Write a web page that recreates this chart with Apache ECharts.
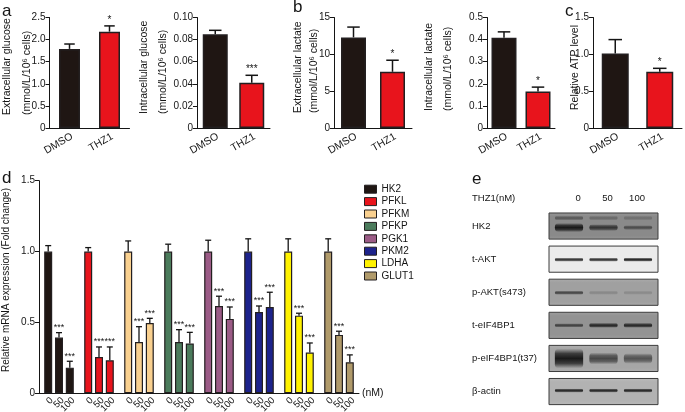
<!DOCTYPE html>
<html><head><meta charset="utf-8">
<script src="https://cdn.jsdelivr.net/npm/echarts@6/dist/echarts.min.js"></script>
<style>html,body{margin:0;padding:0;background:#fff}#c{width:685px;height:412px}</style>
</head><body><div id="c"></div>
<script>
// ---------------- data ----------------
const groups = ['DMSO', 'THZ1'];
const extGlucose = [1.79, 2.18];
const extGlucoseSem = [0.11, 0.13];
const extGlucoseSig = ['', '*'];
const intGlucose = [0.0848, 0.0410];
const intGlucoseSem = [0.0036, 0.0067];
const intGlucoseSig = ['', '***'];
const extLactate = [12.3, 7.63];
const extLactateSem = [1.4, 1.57];
const extLactateSig = ['', '*'];
const intLactate = [0.408, 0.165];
const intLactateSem = [0.027, 0.020];
const intLactateSig = ['', '*'];
const atpLevel = [1.01, 0.765];
const atpLevelSem = [0.19, 0.045];
const atpLevelSig = ['', '*'];

const genes = ['HK2', 'PFKL', 'PFKM', 'PFKP', 'PGK1', 'PKM2', 'LDHA', 'GLUT1'];
const doses = ['0', '50', '100'];
const mrna0   = [1, 1, 1, 1, 1, 1, 1, 1];
const mrna50  = [0.393, 0.256, 0.362, 0.362, 0.616, 0.574, 0.548, 0.412];
const mrna100 = [0.181, 0.233, 0.496, 0.351, 0.525, 0.609, 0.287, 0.219];
const sem0    = [0.042, 0.028, 0.075, 0.052, 0.080, 0.090, 0.090, 0.090];
const sem50   = [0.035, 0.071, 0.108, 0.087, 0.069, 0.042, 0.017, 0.026];
const sem100  = [0.045, 0.094, 0.033, 0.079, 0.084, 0.104, 0.068, 0.052];
const sig0    = ['', '', '', '', '', '', '', ''];
const sig50   = ['***', '***', '***', '***', '***', '***', '***', '***'];
const sig100  = ['***', '***', '***', '***', '***', '***', '***', '***'];

const blotLanes = ['0', '50', '100'];
const blotProteins = ['HK2', 't-AKT', 'p-AKT(s473)', 't-eIF4BP1', 'p-eIF4BP1(t37)', 'β-actin'];
const bandIntensity = [
  [0.95, 0.78, 0.62],
  [0.85, 0.85, 0.90],
  [0.72, 0.30, 0.28],
  [0.72, 0.86, 0.86],
  [1.00, 0.72, 0.66],
  [0.86, 0.86, 0.86]
];
const hk2UpperBand = [0.55, 0.42, 0.36];

// ---------------- styles ----------------
const FONT = '"Liberation Sans", Arial, sans-serif';
const INK = '#151515';
const groupColors = ['#1f1613', '#e8141c'];
const geneColors = ['#1f1613', '#e8141c', '#f9d08f', '#4b7b5c', '#9b5b86', '#1d238c', '#fff200', '#b09a6a'];
const blotRowStyle = [
  { bg: '#8a8a8a', base: 7, dy: 1.5 },
  { bg: '#ebebeb', base: 3, dy: 0.5 },
  { bg: '#a0a0a0', base: 4, dy: 0.5 },
  { bg: '#939393', base: 4.5, dy: 0 },
  { bg: '#a6a6a6', base: 14, dy: 0 },
  { bg: '#b2b2b2', base: 3.5, dy: -1 }
];

const grids = [], xAxes = [], yAxes = [], series = [];

function fmt(dec) { return v => (v === 0 ? '0' : v.toFixed(dec)); }

const smallPanels = [
  { values: extGlucose, sems: extGlucoseSem, sigs: extGlucoseSig, left: 49.5, width: 80, max: 2.5, interval: 0.5, dec: 1, bw: 21 },
  { values: intGlucose, sems: intGlucoseSem, sigs: intGlucoseSig, left: 197, width: 73, max: 0.1, interval: 0.02, dec: 2, bw: 25 },
  { values: extLactate, sems: extLactateSem, sigs: extLactateSig, left: 334, width: 78, max: 15, interval: 5, dec: 0, bw: 25 },
  { values: intLactate, sems: intLactateSem, sigs: intLactateSig, left: 487, width: 68, max: 0.5, interval: 0.1, dec: 1, bw: 25 },
  { values: atpLevel, sems: atpLevelSem, sigs: atpLevelSig, left: 593, width: 89, max: 1.5, interval: 0.5, dec: 1, bw: 27 }
];

const axisLineStyle = { show: true, lineStyle: { color: INK, width: 1 } };

smallPanels.forEach((p, i) => {
  grids.push({ left: p.left, top: 17.5, width: p.width, height: 110.5, outerBoundsMode: 'none', containLabel: false });
  xAxes.push({
    gridIndex: i, type: 'category', data: groups,
    axisLine: axisLineStyle, axisTick: { show: false },
    axisLabel: { rotate: 30, fontSize: 10.5, color: INK, margin: 3, interval: 0, align: 'right', verticalAlign: 'top', fontFamily: FONT }
  });
  yAxes.push({
    gridIndex: i, type: 'value', min: 0, max: p.max, interval: p.interval,
    axisLine: axisLineStyle, axisTick: { show: true, length: 4, lineStyle: { color: INK } },
    splitLine: { show: false },
    axisLabel: { fontSize: 10, color: INK, margin: 4, formatter: fmt(p.dec), fontFamily: FONT }
  });
  series.push({
    type: 'bar', xAxisIndex: i, yAxisIndex: i, barWidth: p.bw,
    data: p.values.map((v, j) => ({ value: v, itemStyle: { color: groupColors[j] } })),
    itemStyle: { borderColor: '#231f20', borderWidth: 1.5 }
  });
  series.push({
    type: 'custom', xAxisIndex: i, yAxisIndex: i, z: 5,
    data: p.values.map((v, j) => [j, v, p.sems[j]]),
    renderItem: (params, api) => {
      const idx = api.value(0), m = api.value(1), s = api.value(2);
      const base = api.coord([idx, m]);
      const top = api.coord([idx, m + s]);
      const cw = p.bw * 0.5;
      const children = [
        { type: 'line', shape: { x1: base[0], y1: base[1], x2: top[0], y2: top[1] }, style: { stroke: INK, lineWidth: 1.5 } },
        { type: 'line', shape: { x1: top[0] - cw / 2, y1: top[1], x2: top[0] + cw / 2, y2: top[1] }, style: { stroke: INK, lineWidth: 1.5 } }
      ];
      const sig = p.sigs[params.dataIndex];
      if (sig) children.push({ type: 'text', x: top[0], y: top[1] - 1, style: { text: sig, fontSize: 10, fill: INK, align: 'center', verticalAlign: 'bottom', fontFamily: FONT } });
      return { type: 'group', children };
    }
  });
});

// ---- panel d ----
const D = 5;
const BW = 8, GAP = 0.35;
grids.push({ left: 39, top: 180.7, width: 320, height: 212.6, outerBoundsMode: 'none', containLabel: false });
xAxes.push({
  gridIndex: D, type: 'category', data: genes,
  axisLine: axisLineStyle, axisTick: { show: false }, axisLabel: { show: false },
  name: '(nM)', nameLocation: 'end', nameGap: 3,
  nameTextStyle: { fontSize: 10.5, color: INK, fontFamily: FONT, verticalAlign: 'middle' }
});
yAxes.push({
  gridIndex: D, type: 'value', min: 0, max: 1.5, interval: 0.5,
  axisLine: axisLineStyle, axisTick: { show: true, length: 4, lineStyle: { color: INK } },
  splitLine: { show: false },
  axisLabel: { fontSize: 10, color: INK, margin: 4, formatter: fmt(1), fontFamily: FONT }
});
const doseValues = [mrna0, mrna50, mrna100];
const doseSems = [sem0, sem50, sem100];
const doseSigs = [sig0, sig50, sig100];
doses.forEach((d, k) => {
  series.push({
    type: 'bar', name: d, xAxisIndex: D, yAxisIndex: D, barWidth: BW, barGap: (GAP * 100) + '%',
    data: doseValues[k].map((v, i) => ({ value: v, itemStyle: { color: geneColors[i] } })),
    itemStyle: { borderColor: '#231f20', borderWidth: 1.2 },
    label: {
      show: true, position: 'bottom', distance: 2, formatter: d, rotate: 45,
      align: 'right', verticalAlign: 'top', fontSize: 9.5, color: INK, fontFamily: FONT
    }
  });
});
const errD = [];
doses.forEach((d, k) => genes.forEach((g, i) => errD.push([i, k, doseValues[k][i], doseSems[k][i]])));
series.push({
  type: 'custom', xAxisIndex: D, yAxisIndex: D, z: 5, data: errD,
  renderItem: (params, api) => {
    const gi = api.value(0), k = api.value(1), m = api.value(2), s = api.value(3);
    const off = (k - 1) * BW * (1 + GAP);
    const b = api.coord([gi, m]), t = api.coord([gi, m + s]);
    const x = b[0] + off;
    const children = [
      { type: 'line', shape: { x1: x, y1: b[1], x2: x, y2: t[1] }, style: { stroke: INK, lineWidth: 1.3 } },
      { type: 'line', shape: { x1: x - 3, y1: t[1], x2: x + 3, y2: t[1] }, style: { stroke: INK, lineWidth: 1.3 } }
    ];
    const sig = doseSigs[k][gi];
    if (sig) children.push({ type: 'text', x: x, y: t[1] - 0.5, style: { text: sig, fontSize: 9, fill: INK, align: 'center', verticalAlign: 'bottom', fontFamily: FONT } });
    return { type: 'group', children };
  }
});

// ---- legend holder (hidden grid) ----
const L = 6;
grids.push({ left: 0, top: 0, width: 1, height: 1, show: false, outerBoundsMode: 'none' });
xAxes.push({ gridIndex: L, type: 'category', data: [''], show: false });
yAxes.push({ gridIndex: L, type: 'value', show: false });
genes.forEach((g, i) => series.push({
  type: 'bar', name: g, xAxisIndex: L, yAxisIndex: L, data: [],
  itemStyle: { color: geneColors[i], borderColor: '#231f20', borderWidth: 1 }
}));

// ---- panel e blot ----
const E = 7;
grids.push({ left: 551.75, top: 209.5, width: 103.5, height: 198.6, show: false, outerBoundsMode: 'none' });
xAxes.push({ gridIndex: E, type: 'category', data: blotLanes, show: false });
yAxes.push({
  gridIndex: E, type: 'category', data: blotProteins, inverse: true,
  axisLine: { show: false }, axisTick: { show: false },
  axisLabel: { align: 'left', margin: 79.75, fontSize: 9.5, color: INK, fontFamily: FONT }
});
// header lanes
const H = 8;
grids.push({ left: 563.3, top: 205, width: 88.5, height: 1, show: false, outerBoundsMode: 'none' });
xAxes.push({
  gridIndex: H, type: 'category', data: blotLanes, position: 'top',
  axisLine: { show: false }, axisTick: { show: false },
  axisLabel: { fontSize: 9.5, color: INK, margin: 7, verticalAlign: 'middle', fontFamily: FONT }
});
yAxes.push({ gridIndex: H, type: 'value', show: false });

series.push({
  type: 'custom', xAxisIndex: E, yAxisIndex: E, z: 2,
  data: blotProteins.map((p, r) => [0, r]),
  renderItem: (params, api) => {
    const cs = params.coordSys;
    const r = api.value(1);
    const cy = api.coord([0, r])[1];
    const rh = api.size([0, 1])[1];
    const h = rh * 0.79;
    const bg = blotRowStyle[r].bg;
    return {
      type: 'rect',
      shape: { x: cs.x - 2.75, y: cy - h / 2, width: cs.width + 5.5, height: h },
      style: {
        fill: new echarts.graphic.LinearGradient(0, 0, 0, 1, [
          { offset: 0, color: echarts.color.lift(bg, 0.12) },
          { offset: 0.15, color: bg },
          { offset: 0.85, color: bg },
          { offset: 1, color: echarts.color.lift(bg, 0.1) }
        ]),
        stroke: '#3c3c3c', lineWidth: 1
      }
    };
  }
});
const bandData = [];
blotProteins.forEach((p, r) => blotLanes.forEach((l, c) => bandData.push([c, r, bandIntensity[r][c], 0])));
blotLanes.forEach((l, c) => bandData.push([c, 0, hk2UpperBand[c], 1]));
function bandFill(a) {
  return new echarts.graphic.LinearGradient(0, 0, 0, 1, [
    { offset: 0, color: 'rgba(25,25,25,0)' },
    { offset: 0.25, color: 'rgba(25,25,25,' + (a * 0.75) + ')' },
    { offset: 0.5, color: 'rgba(25,25,25,' + a + ')' },
    { offset: 0.75, color: 'rgba(25,25,25,' + (a * 0.75) + ')' },
    { offset: 1, color: 'rgba(25,25,25,0)' }
  ]);
}
series.push({
  type: 'custom', xAxisIndex: E, yAxisIndex: E, z: 3, data: bandData,
  renderItem: (params, api) => {
    const c = api.value(0), r = api.value(1), inten = api.value(2), upper = api.value(3);
    const pt = api.coord([c, r]);
    const lw = api.size([1, 0])[0];
    const st = blotRowStyle[r];
    let th = Math.max(3, st.base * Math.pow(inten, 1.5)) * 1.4;
    let cy = pt[1] + st.dy;
    if (upper) { th = 4.5; cy = pt[1] - 8; }
    const a = Math.min(1, Math.pow(inten, 1.5) * 1.1);
    const w = lw * 0.82;
    return {
      type: 'rect',
      shape: { x: pt[0] - w / 2, y: cy - th / 2, width: w, height: th, r: Math.min(th / 2, 4) },
      style: { fill: bandFill(a) }
    };
  }
});

// ---------------- texts ----------------
const ttl = (text, x, y) => ({ type: 'text', x, y, style: { text, fontSize: 17, fill: INK, fontFamily: FONT, verticalAlign: 'top' } });
const vtext = (text, x, y, align, size) => ({
  type: 'text', x, y, rotation: Math.PI / 2,
  style: { text, fontSize: size || 10.5, fill: INK, fontFamily: FONT, align: align || 'left', verticalAlign: 'middle' }
});
const unitText = '(mmol/L/10\u2076 cells)';

const option = {
  animation: false,
  textStyle: { fontFamily: FONT },
  grid: grids, xAxis: xAxes, yAxis: yAxes, series,
  legend: {
    data: genes, orient: 'vertical', left: 364, top: 183, padding: 0,
    itemWidth: 12, itemHeight: 8, itemGap: 0, icon: 'rect',
    itemStyle: { borderColor: '#231f20', borderWidth: 1 },
    textStyle: { fontSize: 10, color: INK, lineHeight: 12.4, fontFamily: FONT },
    selectedMode: false
  },
  graphic: [
    ttl('a', 2, 3), ttl('b', 293, -1), ttl('c', 565, 3), ttl('d', 2, 169.5), ttl('e', 472, 170.5),
    vtext('Extracellular glucose', 7.5, 115), vtext(unitText, 27.5, 115),
    vtext('Intracellular glucose', 144, 114), vtext(unitText, 163.3, 114),
    vtext('Extracellular lactate', 297.7, 113), vtext(unitText, 314.3, 113),
    vtext('Intracellular lactate', 429, 111), vtext(unitText, 448.3, 111),
    vtext('Relative ATP level', 575, 110),
    vtext('Relative mRNA expression (Fold change)', 6, 280, 'center', 10),
    { type: 'text', x: 472, y: 198, style: { text: 'THZ1(nM)', fontSize: 9.5, fill: INK, fontFamily: FONT, verticalAlign: 'middle' } }
  ]
};
const chart = echarts.init(document.getElementById('c'), null, { renderer: 'canvas' });
chart.setOption(option);
</script>
</body></html>
